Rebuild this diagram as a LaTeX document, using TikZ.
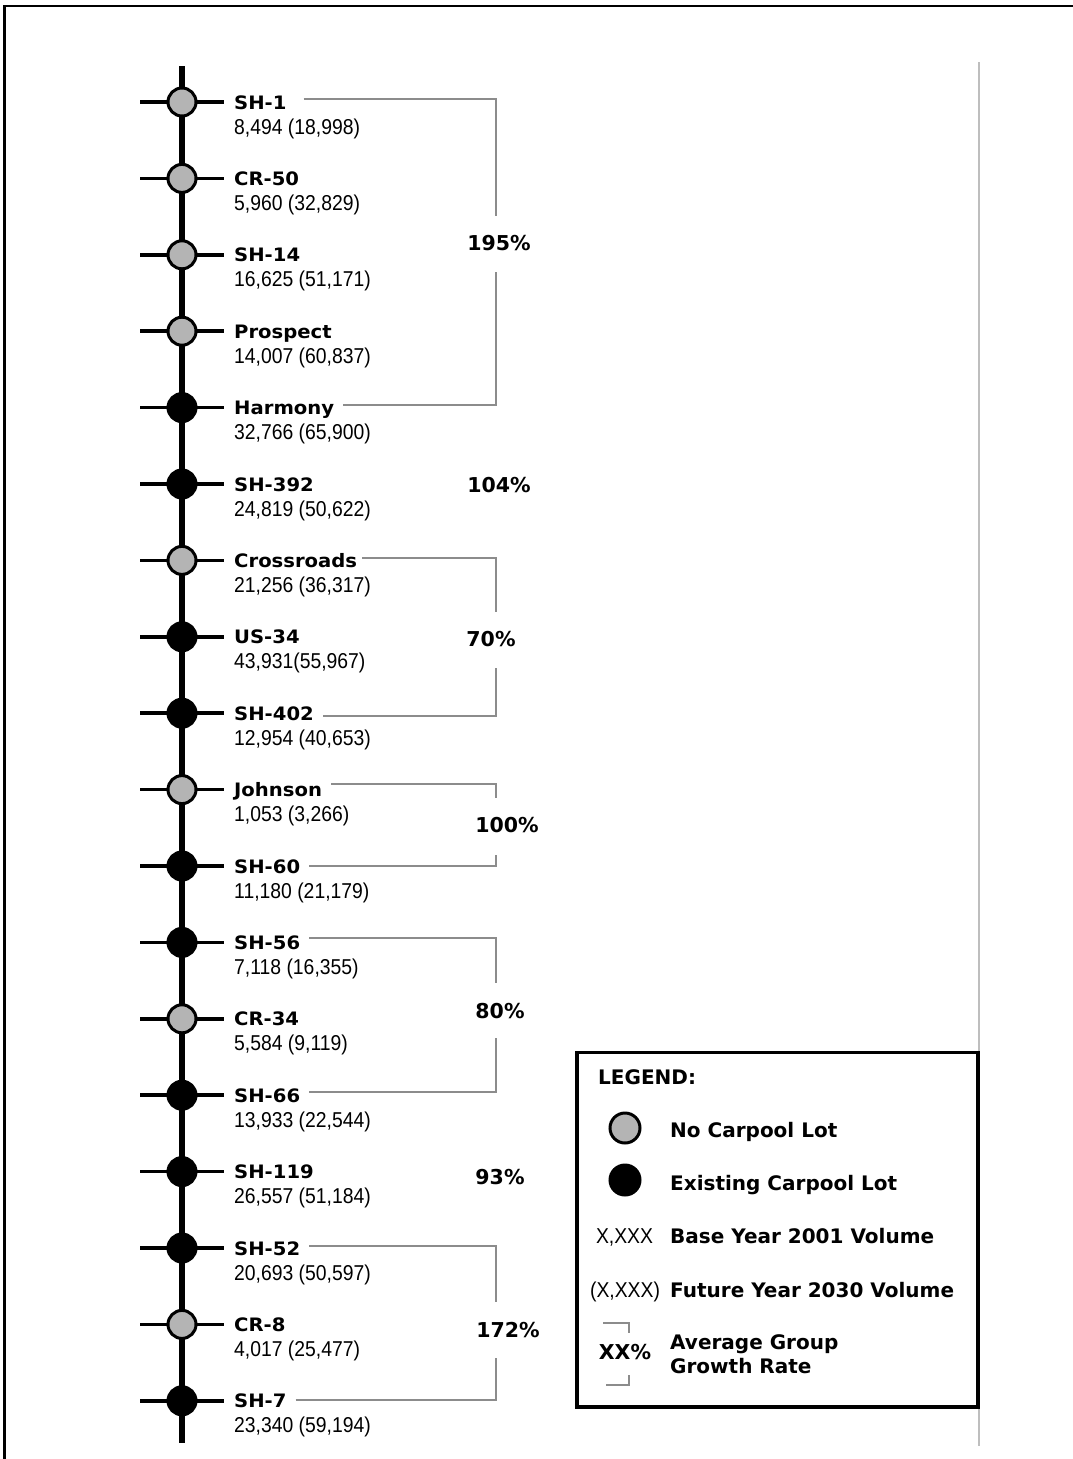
\documentclass[tikz,border=0pt]{standalone}
\usepackage{fontspec}
\setmainfont{DejaVu Sans}
\newfontfamily\namefont{DejaVu Sans}[FakeStretch=1.06]
\newfontfamily\numfont{Liberation Sans}[FakeStretch=0.9]
\definecolor{lotgray}{RGB}{180,180,180}
\definecolor{brk}{RGB}{140,140,140}
\definecolor{guidegray}{RGB}{190,190,190}
\tikzset{
  spine/.style={line width=5.5pt},
  tickln/.style={line width=3.5pt},
  lot/.style={circle, draw=black, line width=3pt, minimum size=28pt, inner sep=0pt},
  nolot/.style={lot, fill=lotgray},
  haslot/.style={lot, fill=black},
  nm/.style={anchor=base west, inner sep=0pt, font=\namefont\bfseries\fontsize{18.5}{20}\selectfont},
  vol/.style={anchor=base west, inner sep=0pt, font=\numfont\fontsize{21.5}{23}\selectfont},
  pct/.style={inner sep=0pt, font=\bfseries\fontsize{20.5}{22}\selectfont},
  legt/.style={anchor=base west, inner sep=0pt, font=\bfseries\fontsize{20}{22}\selectfont},
  grp/.style={draw=brk, line width=2.8pt},
  frame/.style={line width=2.4pt},
  guide/.style={draw=guidegray, line width=1.3pt},
}
\begin{document}
\begin{tikzpicture}[x=1pt,y=-1pt]
\useasboundingbox (0,0) rectangle (1073,1459);
% outer frame (top and left visible)
\draw[frame] (4.5,1459) -- (4.5,6) -- (1073,6);
% light guide line
\coordinate (gtop) at (979,62);
\coordinate (gbot) at (979,1446);
\draw[guide] (gtop) -- (gbot);

% positions
\coordinate (c1) at (182,102);
\coordinate (c2) at (182,178.4);
\coordinate (c3) at (182,254.8);
\coordinate (c4) at (182,331.2);
\coordinate (c5) at (182,407.6);
\coordinate (c6) at (182,484);
\coordinate (c7) at (182,560.4);
\coordinate (c8) at (182,636.8);
\coordinate (c9) at (182,713.2);
\coordinate (c10) at (182,789.6);
\coordinate (c11) at (182,866);
\coordinate (c12) at (182,942.4);
\coordinate (c13) at (182,1018.8);
\coordinate (c14) at (182,1095.2);
\coordinate (c15) at (182,1171.6);
\coordinate (c16) at (182,1248);
\coordinate (c17) at (182,1324.4);
\coordinate (c18) at (182,1400.8);
\coordinate (stop) at (182,66);
\coordinate (sbot) at (182,1443);

% spine
\draw[spine] (stop) -- (sbot);
% cross ticks
\foreach \k in {1,...,18}{
  \draw[tickln] ([xshift=-42pt]c\k) -- ([xshift=42pt]c\k);
}

% lots
\node[nolot]  (n1) at (c1) {};
\node[nolot]  (n2) at (c2) {};
\node[nolot]  (n3) at (c3) {};
\node[nolot]  (n4) at (c4) {};
\node[haslot] (n5) at (c5) {};
\node[haslot] (n6) at (c6) {};
\node[nolot]  (n7) at (c7) {};
\node[haslot] (n8) at (c8) {};
\node[haslot] (n9) at (c9) {};
\node[nolot]  (n10) at (c10) {};
\node[haslot] (n11) at (c11) {};
\node[haslot] (n12) at (c12) {};
\node[nolot]  (n13) at (c13) {};
\node[haslot] (n14) at (c14) {};
\node[haslot] (n15) at (c15) {};
\node[haslot] (n16) at (c16) {};
\node[nolot]  (n17) at (c17) {};
\node[haslot] (n18) at (c18) {};

% names
\node[nm] (t1)  at (234,109)    {SH-1};
\node[nm] (t2)  at (234,185.4)  {CR-50};
\node[nm] (t3)  at (234,261.8)  {SH-14};
\node[nm] (t4)  at (234,338.2)  {Prospect};
\node[nm] (t5)  at (234,414.6)  {Harmony};
\node[nm] (t6)  at (234,491)    {SH-392};
\node[nm] (t7)  at (234,567.4)  {Crossroads};
\node[nm] (t8)  at (234,643.8)  {US-34};
\node[nm] (t9)  at (234,720.2)  {SH-402};
\node[nm] (t10) at (234,796.6)  {Johnson};
\node[nm] (t11) at (234,873)    {SH-60};
\node[nm] (t12) at (234,949.4)  {SH-56};
\node[nm] (t13) at (234,1025.8) {CR-34};
\node[nm] (t14) at (234,1102.2) {SH-66};
\node[nm] (t15) at (234,1178.6) {SH-119};
\node[nm] (t16) at (234,1255)   {SH-52};
\node[nm] (t17) at (234,1331.4) {CR-8};
\node[nm] (t18) at (234,1407.8) {SH-7};

% volumes
\node[vol] (v1)  at (234,134)    {8,494 (18,998)};
\node[vol] (v2)  at (234,210.4)  {5,960 (32,829)};
\node[vol] (v3)  at (234,286.8)  {16,625 (51,171)};
\node[vol] (v4)  at (234,363.2)  {14,007 (60,837)};
\node[vol] (v5)  at (234,439.6)  {32,766 (65,900)};
\node[vol] (v6)  at (234,516)    {24,819 (50,622)};
\node[vol] (v7)  at (234,592.4)  {21,256 (36,317)};
\node[vol] (v8)  at (234,668.8)  {43,931(55,967)};
\node[vol] (v9)  at (234,745.2)  {12,954 (40,653)};
\node[vol] (v10) at (234,821.6)  {1,053 (3,266)};
\node[vol] (v11) at (234,898)    {11,180 (21,179)};
\node[vol] (v12) at (234,974.4)  {7,118 (16,355)};
\node[vol] (v13) at (234,1050.8) {5,584 (9,119)};
\node[vol] (v14) at (234,1127.2) {13,933 (22,544)};
\node[vol] (v15) at (234,1203.6) {26,557 (51,184)};
\node[vol] (v16) at (234,1280)   {20,693 (50,597)};
\node[vol] (v17) at (234,1356.4) {4,017 (25,477)};
\node[vol] (v18) at (234,1432.8) {23,340 (59,194)};

% group growth rates
\node[pct] (p1) at (499,243)  {195\%};
\node[pct] (p2) at (499,485)  {104\%};
\node[pct] (p3) at (491,639)  {70\%};
\node[pct] (p4) at (507,825)  {100\%};
\node[pct] (p5) at (500,1011) {80\%};
\node[pct] (p6) at (500,1177) {93\%};
\node[pct] (p7) at (508,1330) {172\%};

% brackets
\coordinate (g1a) at (496,99);   \coordinate (g1b) at (496,216);
\coordinate (g1c) at (496,272);  \coordinate (g1d) at (496,405);
\draw[grp] ([xshift=17pt]t1.east |- g1a) -- (g1a) -- (g1b);
\draw[grp] ([xshift=9pt]t5.east |- g1d) -- (g1d) -- (g1c);

\coordinate (g3a) at (496,558);  \coordinate (g3b) at (496,612);
\coordinate (g3c) at (496,668);  \coordinate (g3d) at (496,716);
\draw[grp] ([xshift=5pt]t7.east |- g3a) -- (g3a) -- (g3b);
\draw[grp] ([xshift=9pt]t9.east |- g3d) -- (g3d) -- (g3c);

\coordinate (g4a) at (496,784);  \coordinate (g4b) at (496,798);
\coordinate (g4c) at (496,855);  \coordinate (g4d) at (496,866);
\draw[grp] ([xshift=9pt]t10.east |- g4a) -- (g4a) -- (g4b);
\draw[grp] ([xshift=9pt]t11.east |- g4d) -- (g4d) -- (g4c);

\coordinate (g5a) at (496,938);  \coordinate (g5b) at (496,983);
\coordinate (g5c) at (496,1038); \coordinate (g5d) at (496,1092);
\draw[grp] ([xshift=9pt]t12.east |- g5a) -- (g5a) -- (g5b);
\draw[grp] ([xshift=9pt]t14.east |- g5d) -- (g5d) -- (g5c);

\coordinate (g7a) at (496,1246); \coordinate (g7b) at (496,1302);
\coordinate (g7c) at (496,1358); \coordinate (g7d) at (496,1400);
\draw[grp] ([xshift=9pt]t16.east |- g7a) -- (g7a) -- (g7b);
\draw[grp] ([xshift=9pt]t18.east |- g7d) -- (g7d) -- (g7c);

% legend
\draw[line width=3.2pt, fill=white] (577,1052.5) rectangle (978,1407);
\node[legt] (lh) at (598,1084) {LEGEND:};
\node[nolot, minimum size=30pt] (lg1) at (625,1128) {};
\node[legt] (lt1) at (670,1137) {No Carpool Lot};
\node[haslot, minimum size=30pt] (lg2) at (625,1180) {};
\node[legt] (lt2) at (670,1190) {Existing Carpool Lot};
\node[vol, anchor=base] (lx1) at (624.5,1243) {X,XXX};
\node[legt] (lt3) at (670,1243) {Base Year 2001 Volume};
\node[vol, anchor=base] (lx2) at (625,1297) {(X,XXX)};
\node[legt] (lt4) at (670,1297) {Future Year 2030 Volume};
\node[pct, anchor=base] (lx3) at (625,1359) {XX\%};
\node[legt] (lt5) at (670,1349) {Average Group};
\node[legt] (lt6) at (670,1373) {Growth Rate};
\coordinate (lb1) at (629,1323);
\coordinate (lb2) at (629,1385);
\draw[grp] ([xshift=-26pt]lb1) -- (lb1) -- ([yshift=-10pt]lb1);
\draw[grp] ([xshift=-23pt]lb2) -- (lb2) -- ([yshift=10pt]lb2);
\end{tikzpicture}
\end{document}
